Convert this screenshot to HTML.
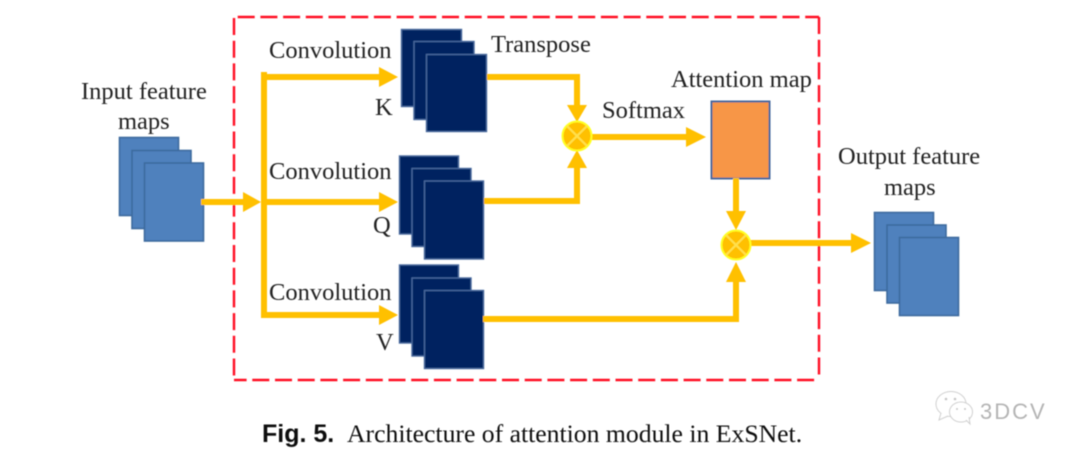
<!DOCTYPE html>
<html><head><meta charset="utf-8"><style>
html,body{margin:0;padding:0;background:#fff;width:1080px;height:455px;overflow:hidden}
svg{display:block}
text{font-family:"Liberation Serif",serif;fill:#222}
</style></head><body>
<svg width="1080" height="455" viewBox="0 0 1080 455" xmlns="http://www.w3.org/2000/svg">
<defs><filter id="b" x="-2%" y="-2%" width="104%" height="104%"><feGaussianBlur stdDeviation="0.6"/></filter></defs>
<g filter="url(#b)">
<g fill="none" stroke="#ff1020" stroke-width="2.400" stroke-dasharray="17,5.700">
<path d="M234 17H819" stroke-dashoffset="19"/>
<path d="M234 18V380"/>
<path d="M819 17V380"/>
<path d="M234 380H819" stroke-dashoffset="4.400"/>
</g>
<g fill="#4f81bd" stroke="#3d6a9e" stroke-width="1.600">
<rect x="119.500" y="137.500" width="59" height="78"/><rect x="132" y="150.500" width="59" height="78"/><rect x="144.500" y="163" width="59" height="78"/>
<rect x="874.500" y="212.500" width="59" height="78"/><rect x="887" y="225" width="59" height="78"/><rect x="899.500" y="237.500" width="59" height="78"/>
</g>
<g fill="#002060" stroke="#47689c" stroke-width="1.400">
<rect x="401.500" y="29.500" width="60" height="77"/><rect x="414" y="41.500" width="60" height="78"/><rect x="426.500" y="54.500" width="60" height="77"/>
<rect x="399.500" y="156" width="59" height="78"/><rect x="412" y="168.500" width="59" height="78"/><rect x="424.500" y="181" width="59" height="78"/>
<rect x="399.500" y="265" width="59" height="78"/><rect x="412" y="278" width="59" height="78"/><rect x="424.500" y="290.500" width="59" height="78"/>
</g>
<rect x="711.500" y="101.500" width="58" height="77" fill="#f79646" stroke="#46699b" stroke-width="2"/>
<g fill="none" stroke="#ffc000" stroke-width="6">
<path d="M264 72V318"/>
<path d="M261 77H382M261 202H382M261 315H382"/>
<path d="M201 202H244"/>
<path d="M487 77H577V106"/>
<path d="M484 201H577V168"/>
<path d="M590 137H688"/>
<path d="M736 178V212"/>
<path d="M483 319H736V282"/>
<path d="M750 243H853"/>
</g>
<g fill="#ffc000">
<path d="M379 67L398 77L379 87Z"/>
<path d="M379 192L398 202L379 212Z"/>
<path d="M379 305L398 315L379 325Z"/>
<path d="M243 192L261 202L243 212Z"/>
<path d="M567 105H587L577 122Z"/>
<path d="M567 168H587L577 150Z"/>
<path d="M686 127L706 137L686 147Z"/>
<path d="M726 211H746L736 230Z"/>
<path d="M726 282H746L736 262Z"/>
<path d="M851 233L871 243L851 253Z"/>
</g>
<g fill="#ffc000" stroke="#ffff20" stroke-width="2">
<circle cx="577" cy="136" r="14.500"/><circle cx="736" cy="245" r="14.500"/>
</g>
<g stroke="#ffe14d" stroke-width="2">
<path d="M567 126L587 146M587 126L567 146"/>
<path d="M726 235L746 255M746 235L726 255"/>
</g>
<g font-size="24.500">
<text x="269" y="58">Convolution</text>
<text x="269" y="179">Convolution</text>
<text x="269" y="300">Convolution</text>
<text x="491" y="52">Transpose</text>
<text x="602" y="118">Softmax</text>
<text x="671" y="87">Attention map</text>
<text x="81" y="99">Input feature</text>
<text x="118" y="129">maps</text>
<text x="838" y="164">Output feature</text>
<text x="884" y="195">maps</text>
<text x="375" y="115">K</text>
<text x="373" y="233">Q</text>
<text x="376" y="350">V</text>
</g>
<text x="262" y="442" font-size="25" style='font-family:"Liberation Sans",sans-serif;font-weight:bold;fill:#111'>Fig. 5.</text>
<text x="347" y="442" font-size="25.700" style="fill:#111">Architecture of attention module in ExSNet.</text>
<g fill="#fff" stroke="#cfcfcf" stroke-width="1">
<ellipse cx="951" cy="404" rx="15" ry="12.500"/>
<path d="M941 413L939 420L948 416" />
<ellipse cx="961" cy="412" rx="11.500" ry="10"/>
<path d="M966 420L970 424L969 417"/>
</g>
<g fill="#c4c4c4"><circle cx="946" cy="399" r="1.300"/><circle cx="955" cy="399" r="1.300"/><circle cx="957" cy="409" r="1"/><circle cx="965" cy="409" r="1"/></g>
<text x="980" y="419" font-size="22" letter-spacing="2" style='font-family:"Liberation Sans",sans-serif;fill:#b4b4b4'>3DCV</text>
</g>
</svg>
</body></html>
